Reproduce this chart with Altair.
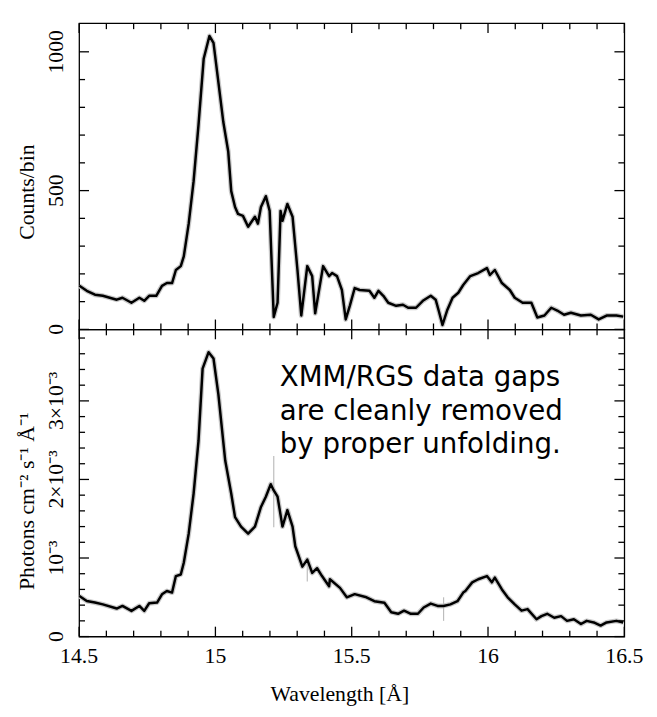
import altair as alt
import pandas as pd

# ---------------- data ----------------
wavelength_top = [14.501, 14.528, 14.558, 14.587, 14.638, 14.659, 14.692, 14.721, 14.739, 14.757,
                  14.783, 14.804, 14.822, 14.841, 14.855, 14.873, 14.884, 14.902, 14.920, 14.938,
                  14.957, 14.978, 14.993, 15.011, 15.029, 15.047, 15.058, 15.072, 15.083, 15.101,
                  15.120, 15.145, 15.156, 15.167, 15.185, 15.199, 15.214, 15.228, 15.239, 15.246,
                  15.264, 15.283, 15.301, 15.315, 15.337, 15.355, 15.366, 15.395, 15.417, 15.428,
                  15.446, 15.464, 15.478, 15.493, 15.511, 15.529, 15.565, 15.583, 15.598, 15.616,
                  15.634, 15.663, 15.688, 15.707, 15.736, 15.761, 15.790, 15.808, 15.819, 15.833,
                  15.851, 15.870, 15.891, 15.909, 15.935, 15.964, 15.996, 16.007, 16.025, 16.051,
                  16.080, 16.098, 16.127, 16.159, 16.181, 16.207, 16.232, 16.254, 16.279, 16.304,
                  16.341, 16.377, 16.406, 16.435, 16.471, 16.496]
counts_per_bin = [157, 139, 125, 121, 107, 114, 96, 114, 103, 121,
                  121, 157, 167, 167, 214, 228, 263, 381, 534, 737,
                  975, 1057, 1032, 890, 747, 641, 498, 441, 416, 409,
                  370, 406, 381, 441, 480, 427, 45, 96, 427, 391,
                  452, 406, 214, 50, 228, 192, 58, 228, 192, 203,
                  192, 142, 36, 85, 149, 142, 139, 114, 139, 121,
                  96, 85, 89, 78, 78, 103, 121, 107, 68, 16,
                  71, 114, 132, 160, 192, 203, 221, 196, 214, 167,
                  142, 114, 96, 96, 43, 50, 78, 68, 53, 60,
                  50, 53, 36, 50, 50, 46]

wavelength_bottom = [14.501, 14.528, 14.558, 14.587, 14.638, 14.659, 14.692, 14.721, 14.739, 14.757,
                     14.786, 14.804, 14.822, 14.841, 14.855, 14.873, 14.884, 14.902, 14.920, 14.938,
                     14.953, 14.975, 14.993, 15.011, 15.036, 15.058, 15.072, 15.094, 15.120, 15.145,
                     15.167, 15.185, 15.203, 15.214, 15.228, 15.246, 15.264, 15.283, 15.293, 15.319,
                     15.337, 15.355, 15.373, 15.391, 15.417, 15.420, 15.457, 15.482, 15.511, 15.554,
                     15.583, 15.620, 15.645, 15.670, 15.692, 15.717, 15.743, 15.764, 15.790, 15.815,
                     15.837, 15.862, 15.888, 15.909, 15.917, 15.942, 15.964, 15.996, 16.014, 16.025,
                     16.051, 16.072, 16.098, 16.123, 16.145, 16.178, 16.196, 16.217, 16.243, 16.268,
                     16.290, 16.315, 16.341, 16.362, 16.388, 16.413, 16.435, 16.471, 16.496]
# photons cm^-2 s^-1 A^-1, in units of 1e-3
photon_flux_e3 = [0.516, 0.453, 0.433, 0.410, 0.357, 0.390, 0.327, 0.390, 0.327, 0.424,
                  0.433, 0.538, 0.580, 0.560, 0.770, 0.790, 0.940, 1.310, 1.820, 2.490,
                  3.410, 3.620, 3.540, 3.080, 2.240, 1.820, 1.520, 1.400, 1.310, 1.400,
                  1.650, 1.780, 1.940, 1.860, 1.780, 1.400, 1.610, 1.400, 1.150, 0.890,
                  0.980, 0.810, 0.870, 0.770, 0.640, 0.730, 0.620, 0.500, 0.540, 0.500,
                  0.450, 0.430, 0.310, 0.290, 0.330, 0.290, 0.290, 0.370, 0.420, 0.390,
                  0.390, 0.410, 0.450, 0.560, 0.580, 0.690, 0.730, 0.770, 0.690, 0.750,
                  0.600, 0.500, 0.410, 0.330, 0.350, 0.220, 0.260, 0.290, 0.240, 0.260,
                  0.200, 0.220, 0.160, 0.200, 0.180, 0.140, 0.180, 0.200, 0.180]

error_wavelength = [15.214, 15.337, 15.837]
error_low_e3 = [1.39, 0.70, 0.20]
error_high_e3 = [2.30, 0.94, 0.50]

x_major_ticks = [14.5, 15.0, 15.5, 16.0, 16.5]
x_tick_labels = ["14.5", "15", "15.5", "16", "16.5"]
x_minor_ticks = [14.6, 14.7, 14.8, 14.9, 15.1, 15.2, 15.3, 15.4, 15.6, 15.7, 15.8, 15.9,
                 16.1, 16.2, 16.3, 16.4]
top_major_ticks = [0, 500, 1000]
top_tick_labels = ["0", "500", "1000"]
top_minor_ticks = [100, 200, 300, 400, 600, 700, 800, 900]
bottom_major_ticks = [0, 1, 2, 3]
bottom_tick_labels = ["0", "10\u207b\u00b3", "2\u00d710\u207b\u00b3", "3\u00d710\u207b\u00b3"]
bottom_minor_ticks = [0.2, 0.4, 0.6, 0.8, 1.2, 1.4, 1.6, 1.8, 2.2, 2.4, 2.6, 2.8, 3.2, 3.4, 3.6, 3.8]

x_domain = [14.5, 16.5]
top_domain = [0, 1103]
bottom_domain = [0, 3.91]

top_title = "Counts/bin"
bottom_title = "Photons cm\u207b\u00b2 s\u207b\u00b9 \u00c5\u207b\u00b9"
x_title = "Wavelength [\u00c5]"

annotation_lines = ["XMM/RGS data gaps", "are cleanly removed", "by proper unfolding."]
annotation_wavelength = [15.236]
annotation_flux_e3 = [3.19]

# ---------------- styling ----------------
SERIF = "Liberation Serif"
W = 552
H_TOP = 310
H_BOT = 311
MAJOR = 10   # tick lengths in pixels
MINOR = 6

df_top = pd.DataFrame({"wl": wavelength_top, "v": counts_per_bin})
df_bot = pd.DataFrame({"wl": wavelength_bottom, "v": photon_flux_e3})
df_err = pd.DataFrame({"wl": error_wavelength, "lo": error_low_e3, "hi": error_high_e3})
df_txt = pd.DataFrame({"wl": annotation_wavelength, "v": annotation_flux_e3})


def tick_layers(xs, ys, ymajor, yminor, height):
    """Inward-pointing ticks on all four sides of the frame."""
    out = []
    for vals, size in [(x_major_ticks, MAJOR), (x_minor_ticks, MINOR)]:
        d = pd.DataFrame({"t": vals})
        out.append(alt.Chart(d).mark_rule(color="black", strokeWidth=1.3).encode(
            x=alt.X("t:Q", scale=xs, axis=None), y=alt.value(height), y2=alt.value(height - size)))
        out.append(alt.Chart(d).mark_rule(color="black", strokeWidth=1.3).encode(
            x=alt.X("t:Q", scale=xs, axis=None), y=alt.value(0), y2=alt.value(size)))
    for vals, size in [(ymajor, MAJOR), (yminor, MINOR)]:
        d = pd.DataFrame({"t": vals})
        out.append(alt.Chart(d).mark_rule(color="black", strokeWidth=1.3).encode(
            y=alt.Y("t:Q", scale=ys, axis=None), x=alt.value(0), x2=alt.value(size)))
        out.append(alt.Chart(d).mark_rule(color="black", strokeWidth=1.3).encode(
            y=alt.Y("t:Q", scale=ys, axis=None), x=alt.value(W), x2=alt.value(W - size)))
    return out


def label_layers(xs, ys, ymajor, ylabels, ytitle, title_y, height, show_x):
    """Tick labels and axis titles drawn as text marks."""
    out = []
    dyl = pd.DataFrame({"t": ymajor, "label": ylabels})
    out.append(alt.Chart(dyl).mark_text(
        angle=270, align="center", baseline="alphabetic", font=SERIF, fontSize=22,
        color="black").encode(
        y=alt.Y("t:Q", scale=ys, axis=None), x=alt.value(-16), text="label:N"))
    dyt = pd.DataFrame({"label": [ytitle]})
    out.append(alt.Chart(dyt).mark_text(
        angle=270, align="center", baseline="alphabetic", font=SERIF, fontSize=22,
        color="black").encode(
        x=alt.value(-46), y=alt.value(title_y), text="label:N"))
    if show_x:
        dxl = pd.DataFrame({"t": x_major_ticks, "label": x_tick_labels})
        out.append(alt.Chart(dxl).mark_text(
            align="center", baseline="alphabetic", font=SERIF, fontSize=22,
            color="black").encode(
            x=alt.X("t:Q", scale=xs, axis=None), y=alt.value(height + 27), text="label:N"))
        dxt = pd.DataFrame({"label": [x_title]})
        out.append(alt.Chart(dxt).mark_text(
            align="center", baseline="alphabetic", font=SERIF, fontSize=22,
            color="black").encode(
            x=alt.value(264), y=alt.value(height + 65), text="label:N"))
    return out


def panel(df, ydom, ymajor, yminor, ylabels, ytitle, title_y, height, show_x, extra):
    xs = alt.Scale(domain=x_domain, nice=False, zero=False)
    ys = alt.Scale(domain=ydom, nice=False, zero=False)
    halo = alt.Chart(df).mark_line(color="#c9c9c9", strokeWidth=5, strokeJoin="round").encode(
        x=alt.X("wl:Q", scale=xs, axis=None), y=alt.Y("v:Q", scale=ys, axis=None))
    main = alt.Chart(df).mark_line(color="black", strokeWidth=2.5, strokeJoin="round").encode(
        x=alt.X("wl:Q", scale=xs, axis=None), y=alt.Y("v:Q", scale=ys, axis=None))
    return ([halo] + extra(xs, ys) + [main]
            + tick_layers(xs, ys, ymajor, yminor, height)
            + label_layers(xs, ys, ymajor, ylabels, ytitle, title_y, height, show_x))


def no_extra(xs, ys):
    return []


def bottom_extra(xs, ys):
    err = alt.Chart(df_err).mark_rule(color="#bdbdbd", strokeWidth=1.2).encode(
        x=alt.X("wl:Q", scale=xs, axis=None), y=alt.Y("lo:Q", scale=ys, axis=None), y2="hi:Q")
    txt = alt.Chart(df_txt).mark_text(
        text=annotation_lines, font="DejaVu Sans", fontSize=28, align="left",
        baseline="alphabetic", lineHeight=34, color="black",
    ).encode(x=alt.X("wl:Q", scale=xs, axis=None), y=alt.Y("v:Q", scale=ys, axis=None))
    return [err, txt]


top = alt.layer(*panel(df_top, top_domain, top_major_ticks, top_minor_ticks, top_tick_labels,
                       top_title, 171, H_TOP, False, no_extra)).properties(
    width=W, height=H_TOP)
bottom = alt.layer(*panel(df_bot, bottom_domain, bottom_major_ticks, bottom_minor_ticks,
                          bottom_tick_labels, bottom_title, 174, H_BOT, True,
                          bottom_extra)).properties(width=W, height=H_BOT)

chart = alt.vconcat(top, bottom, spacing=0, bounds="flush").properties(
    padding={"left": 7, "top": 9, "right": 5, "bottom": 5},
    background="white",
).configure_view(stroke="black", strokeWidth=1.3)

chart.save("out.html", embed_options={"renderer": "svg", "actions": False})
